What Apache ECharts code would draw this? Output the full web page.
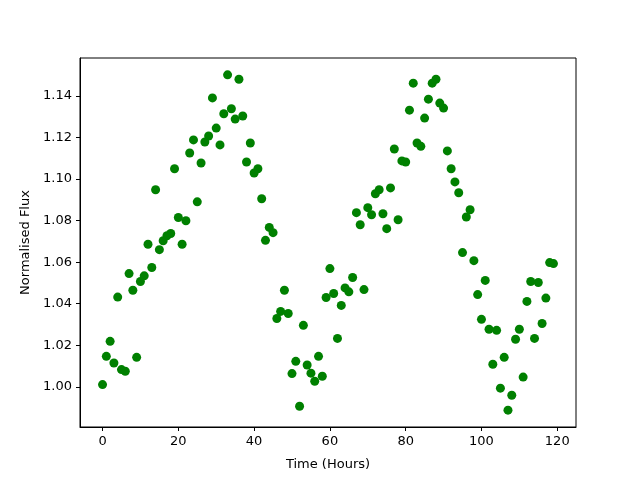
<!DOCTYPE html>
<html>
<head>
<meta charset="utf-8">
<script src="https://cdn.jsdelivr.net/npm/echarts@6/dist/echarts.min.js"></script>
<style>
    html, body {margin: 0; padding: 0; background: #fff;}
    #chart {width: 640px; height: 480px;}
</style>
</head>
<body>
<div id="chart"></div>
<script>
// hours of observation, one point per hour
var hours = [];
for (var h = 0; h < 120; h++) hours.push(h);

// normalised flux
var flux = [
    1.0011, 1.0147, 1.0219, 1.0115, 1.0432, 1.0083, 1.0075, 1.0545, 1.0465, 1.0142,
    1.0507, 1.0534, 1.0686, 1.0574, 1.0948, 1.0660, 1.0703, 1.0727, 1.0738, 1.1049,
    1.0815, 1.0686, 1.0799, 1.1125, 1.1188, 1.0890, 1.1077, 1.1178, 1.1207, 1.1390,
    1.1245, 1.1164, 1.1314, 1.1501, 1.1338, 1.1288, 1.1480, 1.1303, 1.1082, 1.1173,
    1.1029, 1.1049, 1.0905, 1.0705, 1.0767, 1.0742, 1.0329, 1.0363, 1.0465, 1.0353,
    1.0064, 1.0123, 0.9907, 1.0296, 1.0105, 1.0066, 1.0027, 1.0147, 1.0051, 1.0430,
    1.0569, 1.0449, 1.0233, 1.0392, 1.0476, 1.0457, 1.0526, 1.0838, 1.0780, 1.0468,
    1.0862, 1.0828, 1.0929, 1.0948, 1.0833, 1.0761, 1.0957, 1.1144, 1.0804, 1.1087,
    1.1082, 1.1331, 1.1461, 1.1173, 1.1157, 1.1293, 1.1384, 1.1461, 1.1480, 1.1365,
    1.1341, 1.1135, 1.1049, 1.0986, 1.0934, 1.0646, 1.0817, 1.0852, 1.0607, 1.0444,
    1.0325, 1.0512, 1.0277, 1.0109, 1.0272, 0.9994, 1.0142, 0.9888, 0.9960, 1.0229,
    1.0277, 1.0047, 1.0411, 1.0507, 1.0233, 1.0502, 1.0305, 1.0427, 1.0598, 1.0593
];

var xTicks = [0, 20, 40, 60, 80, 100, 120];
var yTicks = [1.00, 1.02, 1.04, 1.06, 1.08, 1.10, 1.12, 1.14];

var points = hours.map(function (t, i) {
    return [t, flux[i]];
});

var font = 'DejaVu Sans';

echarts.init(document.getElementById('chart')).setOption({
    animation: false,
    backgroundColor: '#fff',
    grid: {
        left: 80, right: 64, top: 58, bottom: 53,
        show: true, borderColor: '#000', borderWidth: 1
    },
    xAxis: {
        type: 'value',
        min: -5.95, max: 124.95,
        name: 'Time (Hours)',
        nameLocation: 'middle',
        nameGap: 31,
        nameTextStyle: {fontFamily: font, fontSize: 13, color: '#000'},
        splitLine: {show: false},
        axisLine: {show: true, onZero: false, lineStyle: {color: '#000'}},
        axisTick: {show: true, length: 4, customValues: xTicks, lineStyle: {color: '#000'}},
        axisLabel: {
            customValues: xTicks, fontFamily: font, fontSize: 13, color: '#000', margin: 8
        }
    },
    yAxis: {
        type: 'value',
        min: 0.9807, max: 1.1582,
        name: 'Normalised Flux',
        nameLocation: 'middle',
        nameGap: 48,
        nameTextStyle: {fontFamily: font, fontSize: 13, color: '#000'},
        splitLine: {show: false},
        axisLine: {show: true, onZero: false, lineStyle: {color: '#000'}},
        axisTick: {show: true, length: 4, customValues: yTicks, lineStyle: {color: '#000'}},
        axisLabel: {
            customValues: yTicks, fontFamily: font, fontSize: 13, color: '#000', margin: 8,
            formatter: function (v) { return v.toFixed(2); }
        }
    },
    series: [{
        type: 'scatter',
        data: points,
        symbol: 'circle',
        symbolSize: 9,
        itemStyle: {color: '#008000', opacity: 1}
    }]
});
</script>
</body>
</html>
